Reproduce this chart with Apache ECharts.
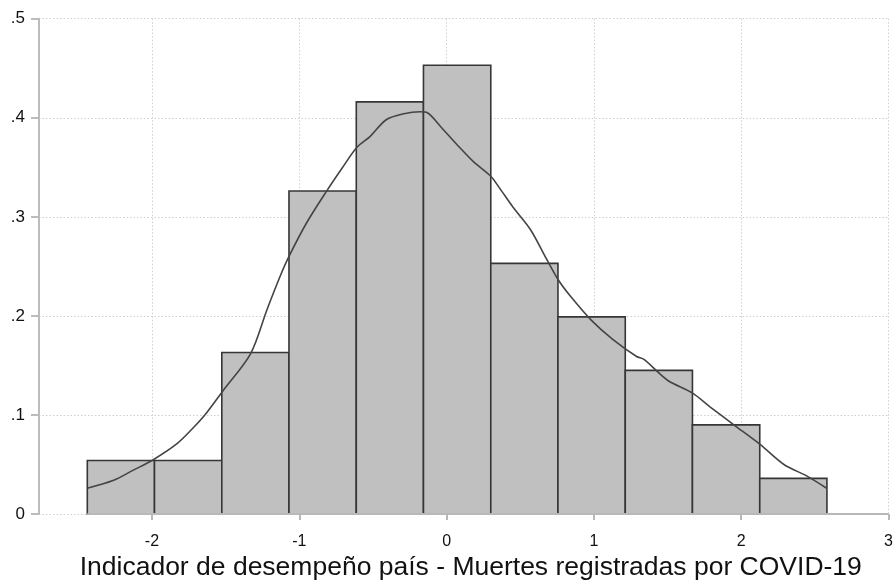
<!DOCTYPE html>
<html>
<head>
<meta charset="utf-8">
<script src="https://cdn.jsdelivr.net/npm/echarts@6/dist/echarts.min.js"></script>
<style>
  html, body { margin: 0; padding: 0; background: #fff; }
  #chart { width: 895px; height: 586px; }
</style>
</head>
<body>
<div id="chart"></div>
<script>
// histogram bins (edges) and densities
const binEdges = [-2.439, -1.983, -1.526, -1.070, -0.613, -0.157, 0.300, 0.756, 1.213, 1.669, 2.126, 2.582];
const density = [0.054, 0.054, 0.163, 0.326, 0.416, 0.453, 0.253, 0.199, 0.145, 0.090, 0.036];

// kernel density curve
const kdeX = [-2.44, -2.26, -2.13, -2.00, -1.83, -1.72, -1.63, -1.52, -1.33, -1.22, -1.13, -1.07, -0.95, -0.81, -0.71, -0.61, -0.52, -0.41, -0.29, -0.18, -0.13, -0.04, 0.07, 0.18, 0.30, 0.36, 0.45, 0.57, 0.68, 0.76, 0.84, 0.98, 1.13, 1.29, 1.34, 1.50, 1.67, 1.79, 1.95, 2.13, 2.29, 2.45, 2.58];
const kdeY = [0.026, 0.034, 0.044, 0.054, 0.071, 0.087, 0.102, 0.124, 0.162, 0.206, 0.240, 0.260, 0.294, 0.327, 0.349, 0.370, 0.381, 0.398, 0.404, 0.406, 0.405, 0.391, 0.373, 0.356, 0.341, 0.329, 0.310, 0.287, 0.257, 0.236, 0.220, 0.196, 0.176, 0.159, 0.156, 0.135, 0.122, 0.108, 0.090, 0.070, 0.050, 0.038, 0.026];

const xTicks = [-2, -1, 0, 1, 2, 3];
const xTitle = 'Indicador de desempeño país - Muertes registradas por COVID-19';

const chart = echarts.init(document.getElementById('chart'));

const bars = density.map((d, i) => [binEdges[i], binEdges[i + 1], d]);
const curve = kdeX.map((x, i) => [x, kdeY[i]]);

const font = 'Liberation Sans, Arial, sans-serif';
const gridLine = { color: '#cfcfcf', width: 1, type: [1.5, 2] };

chart.setOption({
  backgroundColor: '#fff',
  animation: false,
  grid: { left: 39, right: 6.5, top: 18.7, bottom: 72, containLabel: false, outerBoundsMode: 'none' },
  xAxis: {
    type: 'value',
    min: -2.767,
    max: 3,
    name: xTitle,
    nameLocation: 'middle',
    nameGap: 40,
    nameMoveOverlap: false,
    nameTextStyle: { fontFamily: font, fontSize: 26.5, color: '#111', verticalAlign: 'top', padding: [0, 0, 0, 14] },
    axisLine: { show: true, onZero: false, lineStyle: { color: 'rgba(0,0,0,0)' } },
    axisTick: { show: true, customValues: xTicks, length: 6, lineStyle: { color: '#b8b8b8', width: 2 } },
    axisLabel: {
      customValues: xTicks,
      margin: 20,
      fontFamily: font, fontSize: 16, color: '#111',
      formatter: (v) => String(v)
    },
    splitLine: { show: true, lineStyle: gridLine }
  },
  yAxis: {
    type: 'value',
    min: 0,
    max: 0.5,
    interval: 0.1,
    axisLine: { show: true, onZero: false, lineStyle: { color: '#bcbcbc', width: 2 } },
    axisTick: { show: true, length: 8, lineStyle: { color: '#bcbcbc', width: 2 } },
    axisLabel: {
      margin: 14,
      fontFamily: font, fontSize: 17, color: '#111',
      formatter: (v) => (v === 0 ? '0' : String(Math.round(v * 10) / 10).replace(/^0/, ''))
    },
    splitLine: { show: true, lineStyle: gridLine }
  },
  series: [
    {
      type: 'custom',
      data: bars,
      encode: { x: [0, 1], y: 2 },
      renderItem: (params, api) => {
        const p0 = api.coord([api.value(0), api.value(2)]);
        const p1 = api.coord([api.value(1), 0]);
        return {
          type: 'rect',
          shape: { x: p0[0], y: p0[1], width: p1[0] - p0[0], height: p1[1] - p0[1] },
          style: { fill: '#c0c0c0', stroke: '#363636', lineWidth: 1.6 }
        };
      },
      markLine: {
        silent: true,
        symbol: 'none',
        label: { show: false },
        lineStyle: { color: '#b8b8b8', width: 2, type: 'solid' },
        data: [[{ coord: [binEdges[0], 0] }, { coord: [xTicks[xTicks.length - 1], 0] }]]
      },
      z: 2
    },
    {
      type: 'line',
      data: curve,
      showSymbol: false,
      smooth: 0.3,
      lineStyle: { color: '#444', width: 1.6 },
      z: 3
    }
  ]
});
</script>
</body>
</html>
